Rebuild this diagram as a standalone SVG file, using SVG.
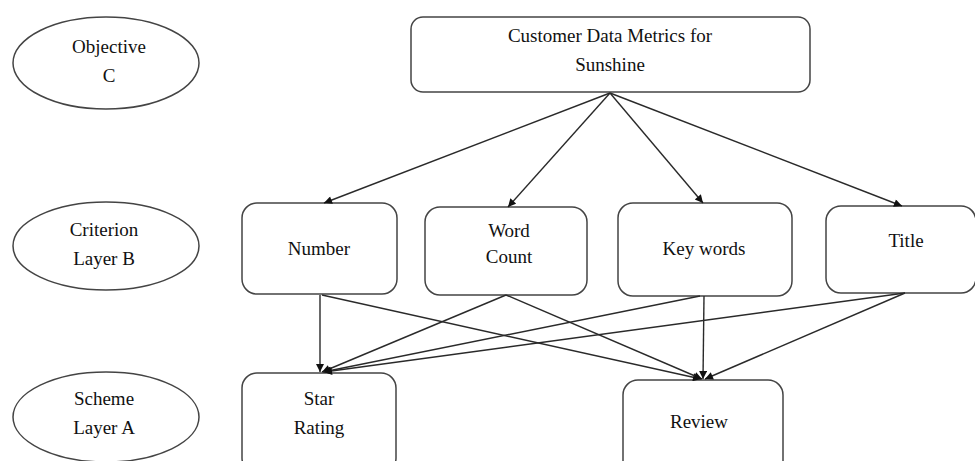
<svg xmlns="http://www.w3.org/2000/svg" width="975" height="461" viewBox="0 0 975 461">
<style>
.n{fill:#fff;stroke:#444;stroke-width:1.5}
.t{font-family:"Liberation Serif","Times New Roman",serif;font-size:19px;fill:#111;text-anchor:middle}
.c{stroke:#2a2a2a;stroke-width:1.4;fill:none;marker-end:url(#ah)}
</style>
<defs>
<marker id="ah" viewBox="0 0 10 10" refX="10" refY="5" markerWidth="10" markerHeight="8" markerUnits="userSpaceOnUse" orient="auto">
<path d="M0,0 L10,5 L0,10 z" fill="#111"/>
</marker>
</defs>
<rect width="975" height="461" fill="#fff"/>
<g id="objective">
<ellipse class="n" cx="106" cy="63" rx="93" ry="46"/>
<text class="t" x="109" y="53">Objective</text>
<text class="t" x="109" y="82">C</text>
</g>
<g id="criterion">
<ellipse class="n" cx="106" cy="246" rx="93" ry="44"/>
<text class="t" x="104" y="236">Criterion</text>
<text class="t" x="104" y="265">Layer B</text>
</g>
<g id="scheme">
<ellipse class="n" cx="106" cy="417" rx="93" ry="45"/>
<text class="t" x="104" y="405">Scheme</text>
<text class="t" x="104" y="434">Layer A</text>
</g>
<g id="top">
<rect class="n" x="411" y="17" width="399" height="75" rx="12"/>
<text class="t" x="610" y="42">Customer Data Metrics for</text>
<text class="t" x="610" y="71">Sunshine</text>
</g>
<g id="number">
<rect class="n" x="242" y="203" width="155" height="91" rx="15"/>
<text class="t" x="319" y="255">Number</text>
</g>
<g id="wordcount">
<rect class="n" x="425" y="207" width="162" height="88" rx="15"/>
<text class="t" x="509" y="237">Word</text>
<text class="t" x="509" y="263">Count</text>
</g>
<g id="keywords">
<rect class="n" x="618" y="203" width="174" height="93" rx="15"/>
<text class="t" x="704" y="255">Key words</text>
</g>
<g id="title">
<rect class="n" x="826" y="206" width="150" height="87" rx="15"/>
<text class="t" x="906" y="247">Title</text>
</g>
<g id="star">
<rect class="n" x="242" y="373" width="154" height="100" rx="15"/>
<text class="t" x="319" y="405">Star</text>
<text class="t" x="319" y="434">Rating</text>
</g>
<g id="review">
<rect class="n" x="623" y="380" width="160" height="100" rx="15"/>
<text class="t" x="699" y="428">Review</text>
</g>
<g id="connectors">
<line class="c" x1="610" y1="93" x2="324" y2="203"/>
<line class="c" x1="610" y1="93" x2="508" y2="207"/>
<line class="c" x1="610" y1="93" x2="703" y2="203"/>
<line class="c" x1="610" y1="93" x2="902" y2="206"/>
<line class="c" x1="320" y1="295" x2="320" y2="372"/>
<line class="c" x1="322" y1="295" x2="701" y2="379"/>
<line class="c" x1="506" y1="295" x2="322" y2="372"/>
<line class="c" x1="506" y1="295" x2="702" y2="379"/>
<line class="c" x1="700" y1="296" x2="323" y2="372"/>
<line class="c" x1="704" y1="296" x2="703" y2="379"/>
<line class="c" x1="905" y1="293" x2="324" y2="372"/>
<line class="c" x1="905" y1="293" x2="705" y2="379"/>
</g>
</svg>
